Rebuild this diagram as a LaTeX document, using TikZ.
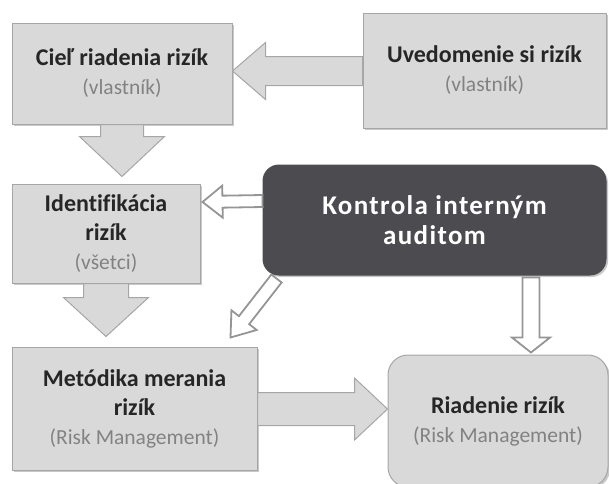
\documentclass[tikz,border=0pt]{standalone}
\usepackage{fontspec}
\setmainfont{Carlito}[Ligatures=NoCommon]
\usetikzlibrary{calc,shadows}

\definecolor{boxfill}{HTML}{D9D9D9}
\definecolor{boxline}{HTML}{A6A6A6}
\definecolor{darkfill}{HTML}{4B4B50}
\definecolor{subtext}{HTML}{828282}
\definecolor{maintext}{HTML}{262626}
\definecolor{hollowline}{HTML}{959595}

\newcommand\sub[1]{{\fontsize{21.5}{29}\selectfont\mdseries\color{subtext}#1}}

\tikzset{
  box/.style={draw=boxline, fill=boxfill, line width=1pt, align=center, inner sep=0pt,
    text=maintext, font=\fontsize{24}{29}\selectfont\bfseries,
    drop shadow={shadow xshift=2pt, shadow yshift=-2pt, opacity=0.3, fill=black!70}},
  roundbox/.style={box, rounded corners=20pt},
  darkbox/.style={box, draw=darkfill, fill=darkfill, text=white, rounded corners=16pt,
    font=\fontsize{27}{30}\selectfont\bfseries\addfontfeatures{LetterSpace=5}},
  % block arrow: half shaft / half head / head length
  fat/.style args={#1/#2/#3}{to path={
    let \p1=($(\tikztotarget)-(\tikztostart)$), \n1={atan2(\y1,\x1)},
        \n2={veclen(\x1,\y1)-#3} in
    ($(\tikztostart)+({\n1+90}:#1)$)
    -- ($(\tikztostart)+({\n1+90}:#1)+({\n1}:{\n2})$)
    -- ($(\tikztostart)+({\n1+90}:#2)+({\n1}:{\n2})$)
    -- (\tikztotarget)
    -- ($(\tikztostart)+({\n1-90}:#2)+({\n1}:{\n2})$)
    -- ($(\tikztostart)+({\n1-90}:#1)+({\n1}:{\n2})$)
    -- ($(\tikztostart)+({\n1-90}:#1)$)
    -- cycle}},
  bigarrow/.style={fat=#1, draw=boxline, fill=boxfill, line width=1pt},
  hollowarrow/.style={fat=#1, draw=hollowline, fill=white, line width=1.8pt},
}

\begin{document}
\begin{tikzpicture}[x=1pt, y=-1pt]
  \useasboundingbox (0,0) rectangle (609,483);

  % Boxes
  \node[box, minimum width=220pt, minimum height=101pt] (ciel) at (122,73.5)
    {Cieľ riadenia rizík\\\sub{(vlastník)}};
  \node[box, minimum width=243pt, minimum height=115pt] (uved) at (484.5,70.5)
    {Uvedomenie si rizík\\\sub{(vlastník)}};
  \node[box, minimum width=188pt, minimum height=99pt] (ident) at (106,233.5)
    {Identifikácia\\rizík\\\sub{(všetci)}};
  \node[darkbox, minimum width=343pt, minimum height=110pt] (kontrola) at (434.5,220)
    {Kontrola interným\\auditom};
  \node[box, minimum width=245pt, minimum height=123pt] (metod) at (134.5,408.5)
    {Metódika merania\\rizík\\\sub{(Risk Management)}};
  \node[roundbox, minimum width=220pt, minimum height=132pt] (riad) at (498,421)
    {Riadenie rizík\\\sub{(Risk Management)}};

  % Filled arrows
  \draw[bigarrow=14.5pt/28.5pt/33pt] ($(uved.west |- 0,71)$) to ($(ciel.east |- 0,71)$);
  \draw[bigarrow=21.5pt/42.5pt/40pt] (ciel.south) to ($(ciel.south |- ident.north)+(0,-7)$);
  \draw[bigarrow=22.5pt/42.5pt/39pt] (ident.south) to ($(ident.south |- metod.north)+(0,-10)$);
  \draw[bigarrow=16.5pt/31pt/33pt] ($(metod.east |- 0,409)$) to ($(riad.west |- 0,409)$);

  % Hollow arrows from the audit
  \draw[hollowarrow=6pt/16pt/20pt] ($(kontrola.west)+(0,-19)$) to ($(ident.east |- 0,202)+(2,0)$);
  \draw[hollowarrow=6.5pt/16pt/22pt] ($(kontrola.south west)+(14,3)$) to ($(metod.north east)+(-27,-9)$);
  \draw[hollowarrow=8.5pt/19pt/15pt] ($(riad.north |- kontrola.south)+(33,2)$) to ($(riad.north)+(33,-2)$);
\end{tikzpicture}
\end{document}
